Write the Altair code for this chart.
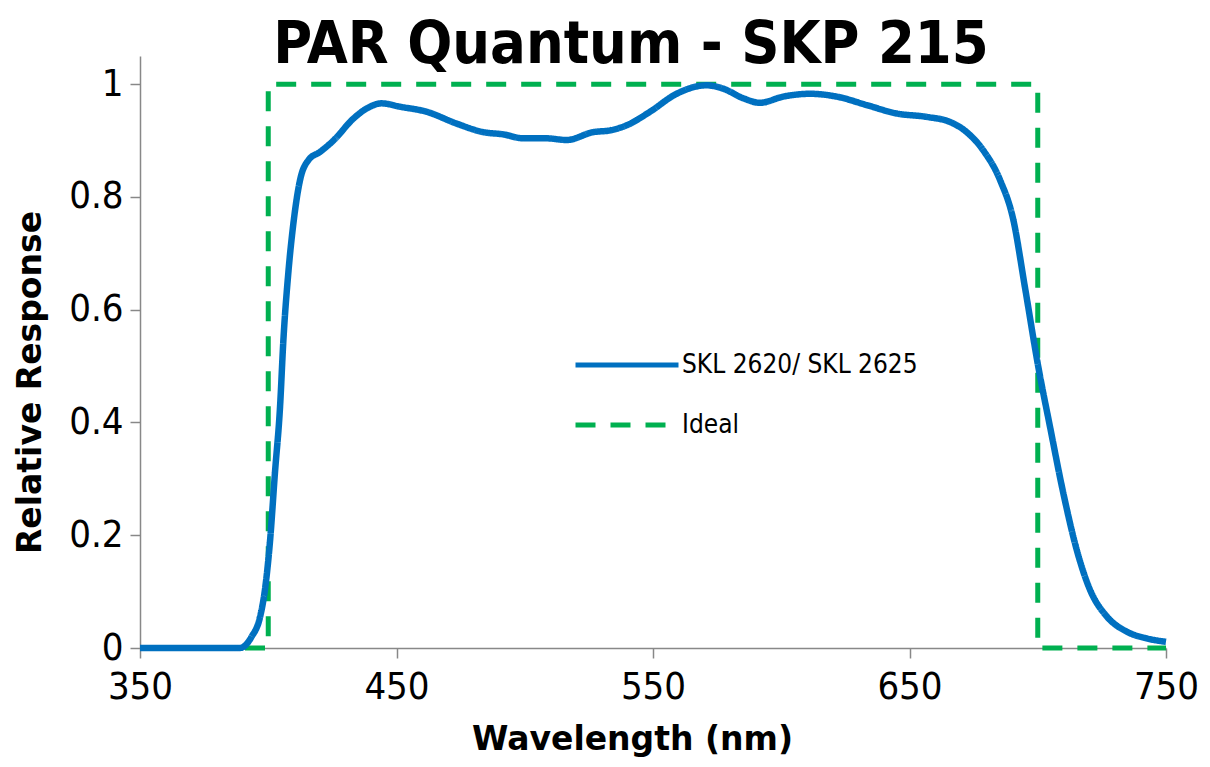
import altair as alt
import pandas as pd

# Sensor response (SKL 2620/ SKL 2625)
wl_sensor = [350, 387, 389, 393.5, 396.8, 398.7, 400.7, 402.6, 404.6, 405.9,
             407.8, 409.8, 412.4, 415.6, 420.2, 425.4, 433.2, 438.4, 444.2, 451.4,
             461.8, 473.5, 483.8, 491.6, 499.4, 508.5, 516.3, 526.7, 533.2, 539.7,
             548.8, 559.2, 570.9, 577.4, 585.2, 591.7, 600.8, 611.2, 621.6, 633.3,
             645.0, 656.7, 665.8, 672.3, 678.7, 685.3, 690.5, 695.0, 700.2, 704.8,
             710.0, 715.2, 720.4, 726.9, 734.7, 742.5, 750]
resp_sensor = [0, 0, 0, 0.02, 0.055, 0.103, 0.19, 0.31, 0.428, 0.546,
               0.664, 0.753, 0.830, 0.865, 0.880, 0.900, 0.939, 0.957, 0.966, 0.960,
               0.951, 0.930, 0.915, 0.911, 0.904, 0.904, 0.901, 0.915, 0.918, 0.927,
               0.951, 0.983, 0.998, 0.992, 0.975, 0.967, 0.978, 0.983, 0.978, 0.963,
               0.948, 0.942, 0.933, 0.915, 0.883, 0.830, 0.759, 0.64, 0.499, 0.392,
               0.274, 0.174, 0.103, 0.056, 0.029, 0.017, 0.011]

# Ideal response
wl_ideal = [350, 400, 400, 700, 700, 750]
resp_ideal = [0, 0, 1, 1, 0, 0]

series_names = ["SKL 2620/ SKL 2625", "Ideal"]
series_colors = ["#0070C0", "#00B050"]
series_dashes = [[1, 0], [20, 15]]

x_ticks = [350, 450, 550, 650, 750]
y_ticks = [0, 0.2, 0.4, 0.6, 0.8, 1]

df_sensor = pd.DataFrame({"wl": wl_sensor, "resp": resp_sensor,
                          "series": series_names[0], "order": range(len(wl_sensor))})
df_ideal = pd.DataFrame({"wl": wl_ideal, "resp": resp_ideal,
                         "series": series_names[1], "order": range(len(wl_ideal))})

TICK_FONT = "DejaVu Sans Condensed"
TITLE_FONT = "DejaVu Sans"
AX_GRAY = "#888888"

x_enc = alt.X("wl:Q",
              scale=alt.Scale(domain=[350, 750], nice=False, zero=False),
              axis=alt.Axis(values=x_ticks, title="Wavelength (nm)", grid=False,
                            labelFlush=False, labelOverlap=False,
                            titleX=492, titleY=101, titleBaseline="alphabetic",
                            titleAnchor="start", titleAlign="center"))
y_enc = alt.Y("resp:Q",
              scale=alt.Scale(domain=[0, 1.05], nice=False),
              axis=alt.Axis(values=y_ticks, title="Relative Response", grid=False,
                            format="~g", labelFlush=False, labelOverlap=False,
                            titleX=-100, titleY=326, titleBaseline="alphabetic",
                            titleAngle=-90, titleAlign="center"))


def make_legend():
    return alt.Legend(title=None, orient="none", legendX=433, legendY=284,
                      direction="vertical",
                      symbolType="stroke", symbolSize=10609,
                      symbolStrokeWidth=5, labelFont=TICK_FONT,
                      labelFontSize=26, labelColor="#000000", labelLimit=500,
                      labelOffset=1, rowPadding=10, clipHeight=50,
                      padding=0)


color_enc = alt.Color("series:N",
                      scale=alt.Scale(domain=series_names, range=series_colors),
                      legend=make_legend())
dash_enc = alt.StrokeDash("series:N",
                          scale=alt.Scale(domain=series_names, range=series_dashes),
                          legend=make_legend())

ideal = alt.Chart(df_ideal).mark_line(strokeWidth=5, interpolate="linear").encode(
    x=x_enc, y=y_enc, color=color_enc, strokeDash=dash_enc, order="order:Q")
sensor = alt.Chart(df_sensor).mark_line(strokeWidth=6.5, interpolate="monotone").encode(
    x=x_enc, y=y_enc, color=color_enc, strokeDash=dash_enc, order="order:Q")

chart = alt.layer(ideal, sensor).properties(
    width=1026, height=592,
    title=alt.TitleParams("PAR Quantum - SKP 215", font="DejaVu Sans Condensed", fontSize=59,
                          fontWeight="bold", color="#000000", anchor="middle",
                          frame="group", dx=-22, offset=0, dy=66, baseline="alphabetic"),
    padding={"left": 132, "top": 48, "right": 36, "bottom": 111},
    autosize=alt.AutoSizeParams(type="none"),
).configure_view(stroke=None).configure_axis(
    domainColor=AX_GRAY, domainWidth=1.5, tickColor=AX_GRAY, tickWidth=1.5, tickSize=10,
    labelFont=TICK_FONT, labelFontSize=38, labelColor="#000000",
    titleFont=TITLE_FONT, titleFontSize=33, titleFontWeight="bold", titleColor="#000000",
).configure_axisX(labelPadding=10).configure_axisY(labelPadding=7)

chart.save("out.html", embed_options={"renderer": "svg", "actions": False})
